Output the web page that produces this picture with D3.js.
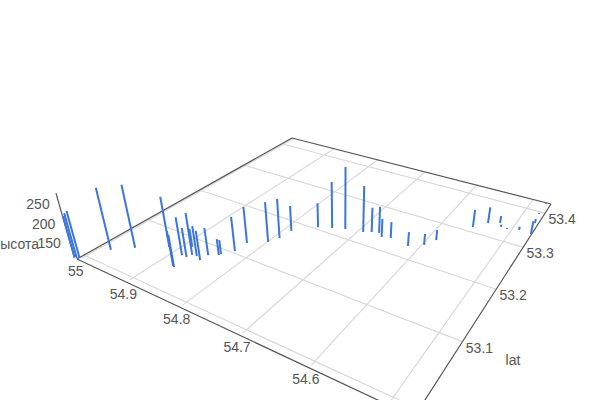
<!DOCTYPE html>
<html><head><meta charset="utf-8"><script src="https://cdn.jsdelivr.net/npm/d3@7"></script>
<style>html,body{margin:0;background:#fff}svg{display:block}</style></head><body><svg id="c" width="600" height="400"></svg>
<script>
const lonValues=[55.011,55.006,55.003,54.982,54.956,54.915,54.874,54.871,54.883,54.874,54.871,54.886,54.863,54.852,54.851,54.838,54.837,54.825,54.824,54.799,54.791,54.788,54.759,54.739,54.720,54.692,54.681,54.670,54.661,54.648,54.616,54.597,54.587,54.554,54.538,54.522,54.517,54.507,54.490,54.471,54.475,54.478,54.477];
const latValues=[52.991,52.991,52.993,53.025,53.044,53.068,53.041,53.040,53.063,53.063,53.070,53.083,53.071,53.067,53.080,53.087,53.090,53.104,53.126,53.142,53.157,53.179,53.205,53.213,53.220,53.226,53.232,53.235,53.228,53.232,53.227,53.240,53.258,53.313,53.333,53.342,53.333,53.332,53.338,53.336,53.366,53.393,53.426];
const heightValues=[217,227,232,271,274,242,201,193,210,187,220,159,190,187,182,153,148,201,207,217,216,179,177,236,277,235,177,182,160,154,148,140,138,158,155,130,116,113,119,146,122,113,113];
const lonTicks=[55,54.9,54.8,54.7,54.6,54.5];
const lonLabels=[55,54.9,54.8,54.7,54.6];
const latTicks=[53,53.1,53.2,53.3,53.4];
const latLabels=[53.1,53.2,53.3,53.4];
const heightTicks=[150,200,250];

const lonRange=[55.004,54.47],latRange=[52.99,53.43],zRange=[110,275];
const L=[77,259],F=[414,417],R=[551,204],B=[292,138],V=[342,1200],k=0.00039;
const du=d3.scaleLinear().domain(lonRange).range([0,1]),dv=d3.scaleLinear().domain(latRange).range([0,1]),dz=d3.scaleLinear().domain(zRange).range([0,zRange[1]-zRange[0]]);
const dx1=F[0]-R[0],dx2=B[0]-R[0],sx=L[0]-F[0]+R[0]-B[0],dy1=F[1]-R[1],dy2=B[1]-R[1],sy=L[1]-F[1]+R[1]-B[1],den=dx1*dy2-dx2*dy1;
const g=(sx*dy2-dx2*sy)/den,h=(dx1*sy-sx*dy1)/den,a=F[0]-L[0]+g*F[0],b=B[0]-L[0]+h*B[0],d=F[1]-L[1]+g*F[1],e=B[1]-L[1]+h*B[1];
function proj(lon,lat,z){const u=du(lon),v=dv(lat),Z=dz(z),w=g*u+h*v+1,X=a*u+b*v+L[0],Y=d*u+e*v+L[1],q=-k*Z;return [(X+q*V[0])/(w+q),(Y+q*V[1])/(w+q)];}

const svg=d3.select("#c");
const zb=zRange[0];
const line=(p,q,c,w)=>svg.append("line").attr("x1",p[0]).attr("y1",p[1]).attr("x2",q[0]).attr("y2",q[1]).attr("stroke",c).attr("stroke-width",w||1);
const label=(t,x,y,an)=>svg.append("text").attr("x",x).attr("y",y).attr("text-anchor",an||"middle").attr("dominant-baseline","central").attr("font-family","Liberation Sans, Arial, sans-serif").attr("font-size",14).attr("fill","#555").text(t);

lonTicks.forEach(l=>line(proj(l,latRange[0]+.004,zb),proj(l,latRange[1],zb),"#d9d9d9",1.2));
latTicks.forEach(l=>line(proj(lonRange[0],l,zb),proj(lonRange[1],l,zb),"#d9d9d9",1.2));
const c0=proj(lonRange[0],latRange[0],zb),c1=proj(lonRange[1],latRange[0],zb),c2=proj(lonRange[1],latRange[1],zb),c3=proj(lonRange[0],latRange[1],zb);
[[c0,c1],[c1,c2],[c2,c3],[c3,c0]].forEach(s=>line(s[0],s[1],"#555",1.2));
line(proj(lonRange[0]+.006,latRange[0],zb),proj(lonRange[0]+.006,latRange[0],zRange[1]),"#555",1.2);

lonValues.forEach((lo,i)=>{line(proj(lo,latValues[i],zb),proj(lo,latValues[i],heightValues[i]),"#3c75e0",2);});

lonLabels.forEach(l=>{const p=proj(l,latRange[0],zb);label(l,p[0]-3,p[1]+11.5);});
latLabels.forEach(l=>{const p=proj(lonRange[1],l,zb);label(l,p[0]+17,p[1]+6);});
heightTicks.forEach(z=>{const p=proj(lonRange[0],latRange[0],z);label(z,p[0]-12,p[1]-1,"end");});
label("высота",39,244,"end");
label("lat",513,360);
</script></body></html>
